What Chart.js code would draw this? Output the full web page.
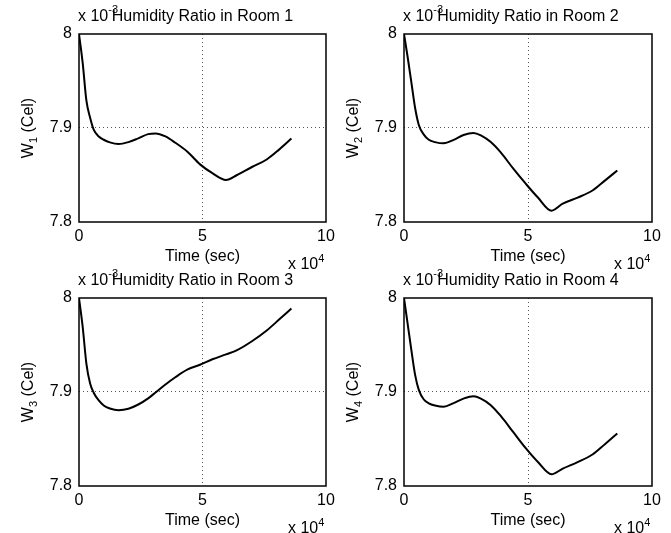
<!DOCTYPE html>
<html>
<head>
<meta charset="utf-8">
<script src="https://cdn.jsdelivr.net/npm/chart.js@4.4.1/dist/chart.umd.min.js"></script>
<style>
  body { margin: 0; background: #fff; }
  #wrap { position: relative; width: 671px; height: 533px; background: #fff; }
  #wrap canvas { position: absolute; left: 0; top: 0; }
</style>
</head>
<body>
<div id="wrap">
  <canvas id="c1" width="671" height="533"></canvas>
  <canvas id="c2" width="671" height="533"></canvas>
  <canvas id="c3" width="671" height="533"></canvas>
  <canvas id="c4" width="671" height="533"></canvas>
</div>
<script>
// time in units of 10^4 sec, humidity ratio in units of 10^-3
const time  = [0, 0.15, 0.3, 0.45, 0.6, 0.8, 1.0, 1.25, 1.6, 2.0, 2.4, 2.8, 3.1, 3.5, 3.9, 4.4, 4.9, 5.4, 5.95, 6.4, 7.0, 7.6, 8.1, 8.6];
const room1 = [8.000, 7.969, 7.929, 7.911, 7.898, 7.891, 7.8875, 7.8847, 7.883, 7.885, 7.889, 7.8935, 7.8942, 7.891, 7.8843, 7.8745, 7.8613, 7.852, 7.8447, 7.850, 7.8585, 7.8665, 7.877, 7.8888];
const room2 = [8.000, 7.975, 7.948, 7.921, 7.903, 7.893, 7.8875, 7.885, 7.8837, 7.8873, 7.8926, 7.8948, 7.8922, 7.885, 7.874, 7.857, 7.841, 7.826, 7.812, 7.8195, 7.826, 7.8335, 7.844, 7.8548];
const room3 = [8.000, 7.969, 7.930, 7.909, 7.899, 7.891, 7.8857, 7.8825, 7.8807, 7.8822, 7.8867, 7.8932, 7.8995, 7.908, 7.9157, 7.924, 7.929, 7.9348, 7.940, 7.9445, 7.954, 7.9655, 7.977, 7.9888];
const room4 = [8.000, 7.972, 7.944, 7.918, 7.902, 7.892, 7.888, 7.8857, 7.8843, 7.8882, 7.893, 7.8955, 7.893, 7.886, 7.8745, 7.8575, 7.8405, 7.8255, 7.8125, 7.8185, 7.8255, 7.8335, 7.8445, 7.8558];

const roomNames = ['1', '2', '3', '4'];
const xTicks = [0, 5, 10];
const yTicks = [7.8, 7.9, 8];

const font = "'Liberation Sans', Arial, Helvetica, sans-serif";

// chart area of each panel (pixels)
const panels = [
  { id: 'c1', values: room1, left: 79,  top: 34,  right: 326, bottom: 222 },
  { id: 'c2', values: room2, left: 404, top: 34,  right: 652, bottom: 222 },
  { id: 'c3', values: room3, left: 79,  top: 298, right: 326, bottom: 486 },
  { id: 'c4', values: room4, left: 404, top: 298, right: 652, bottom: 486 }
];

const Y_AXIS_W = 40;
const X_AXIS_H = 30;

const matlabText = {
  id: 'matlabText',
  afterDraw(chart, args, opts) {
    const ctx = chart.ctx;
    const a = chart.chartArea;
    const cx = (a.left + a.right) / 2;
    const cy = (a.top + a.bottom) / 2;
    ctx.save();
    ctx.fillStyle = '#000';
    ctx.strokeStyle = '#000';

    // axes box
    ctx.lineWidth = 1.5;
    ctx.strokeRect(a.left, a.top, a.right - a.left, a.bottom - a.top);

    // y exponent
    ctx.textBaseline = 'alphabetic';
    ctx.textAlign = 'left';
    ctx.font = '16px ' + font;
    ctx.fillText('x 10', a.left - 1, a.top - 13);
    let w = ctx.measureText('x 10').width;
    ctx.font = '11px ' + font;
    ctx.fillText('-3', a.left - 1 + w, a.top - 21);

    // title
    ctx.font = '16px ' + font;
    ctx.textAlign = 'center';
    ctx.fillText('Humidity Ratio in Room ' + opts.room, cx, a.top - 13);

    // x label
    ctx.fillText('Time (sec)', cx, a.bottom + 39);

    // x exponent
    ctx.textAlign = 'left';
    ctx.fillText('x 10', a.right - 38, a.bottom + 47);
    w = ctx.measureText('x 10').width;
    ctx.font = '11px ' + font;
    ctx.fillText('4', a.right - 38 + w, a.bottom + 40);

    // y label, rotated, with subscript
    ctx.translate(a.left - 46, cy);
    ctx.rotate(-Math.PI / 2);
    ctx.font = '16px ' + font;
    const wW = ctx.measureText('W').width;
    const wRest = ctx.measureText(' (Cel)').width;
    ctx.font = '11px ' + font;
    const wSub = ctx.measureText(opts.room).width;
    let x = -(wW + wSub + wRest) / 2;
    ctx.font = '16px ' + font;
    ctx.fillText('W', x, 0);
    x += wW;
    ctx.font = '11px ' + font;
    ctx.fillText(opts.room, x, 4);
    x += wSub;
    ctx.font = '16px ' + font;
    ctx.fillText(' (Cel)', x, 0);
    ctx.restore();
  }
};

function fmt(v) {
  return String(Number(v.toFixed(1)));
}

panels.forEach((p, i) => {
  const ctx = document.getElementById(p.id).getContext('2d');
  new Chart(ctx, {
    type: 'line',
    data: {
      datasets: [{
        data: time.map((t, k) => ({ x: t, y: p.values[k] })),
        borderColor: '#000',
        borderWidth: 2,
        pointRadius: 0,
        fill: false,
        cubicInterpolationMode: 'monotone'
      }]
    },
    options: {
      responsive: false,
      animation: false,
      events: [],
      layout: {
        padding: {
          left: p.left - Y_AXIS_W,
          top: p.top,
          right: 671 - p.right,
          bottom: 533 - p.bottom - X_AXIS_H
        }
      },
      plugins: {
        legend: { display: false },
        tooltip: { enabled: false },
        title: { display: false },
        matlabText: { room: roomNames[i] }
      },
      scales: {
        x: {
          type: 'linear',
          min: 0,
          max: 10,
          afterBuildTicks: s => { s.ticks = xTicks.map(v => ({ value: v })); },
          afterFit: s => { s.height = X_AXIS_H; },
          ticks: {
            color: '#000',
            padding: 5,
            maxRotation: 0,
            font: { family: font, size: 16 },
            callback: v => fmt(v)
          },
          grid: {
            drawTicks: false,
            lineWidth: 1,
            color: c => (c.tick && c.tick.value === 5) ? '#555' : 'rgba(0,0,0,0)'
          },
          border: { display: false, dash: [1, 3] }
        },
        y: {
          type: 'linear',
          min: 7.8,
          max: 8,
          afterBuildTicks: s => { s.ticks = yTicks.map(v => ({ value: v })); },
          afterFit: s => { s.width = Y_AXIS_W; },
          ticks: {
            color: '#000',
            padding: 7,
            font: { family: font, size: 16 },
            callback: v => fmt(v)
          },
          grid: {
            drawTicks: false,
            lineWidth: 1,
            color: c => (c.tick && Math.abs(c.tick.value - 7.9) < 1e-6) ? '#555' : 'rgba(0,0,0,0)'
          },
          border: { display: false, dash: [1, 3] }
        }
      }
    },
    plugins: [matlabText]
  });
});
</script>
</body>
</html>
